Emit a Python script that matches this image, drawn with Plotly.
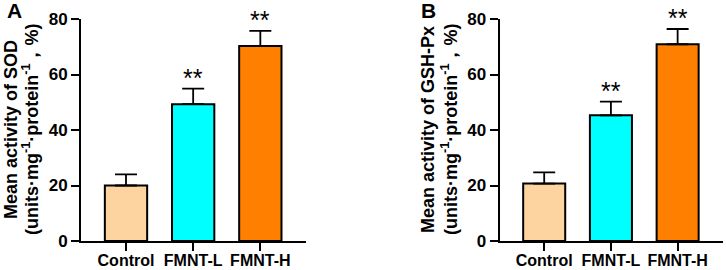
import plotly.graph_objects as go

categories = ["Control", "FMNT-L", "FMNT-H"]
sod_mean = [20.0, 49.3, 70.3]
sod_err = [4.0, 5.6, 5.4]
gsh_mean = [20.7, 45.3, 70.9]
gsh_err = [4.0, 4.9, 5.5]
sig_labels = ["", "**", "**"]
colors = ["#FDD39F", "#00FFFF", "#FF8000"]
y_ticks = [0, 20, 40, 60, 80]

W, H = 726, 270
FONT = "Liberation Sans, Arial, sans-serif"

fig = go.Figure()

panels = [
    dict(mean=sod_mean, err=sod_err, xa="x", ya="y", dom=(81, 306),
         title="Mean activity of SOD", t1=11, t2=30, letter="A", lx=14),
    dict(mean=gsh_mean, err=gsh_err, xa="x2", ya="y2", dom=(499.5, 723),
         title="Mean activity of GSH-Px", t1=428, t2=449, letter="B", lx=428),
]

for i, p in enumerate(panels):
    fig.add_trace(go.Bar(
        x=categories, y=p["mean"], xaxis=p["xa"], yaxis=p["ya"],
        marker=dict(color=colors, line=dict(color="black", width=2)),
        width=0.63,
        error_y=dict(type="data", symmetric=False, array=p["err"],
                     arrayminus=[0, 0, 0], color="black", thickness=1.8, width=11),
        showlegend=False, hoverinfo="skip",
    ))
    sfx = "" if i == 0 else str(i + 1)
    fig.layout["xaxis" + sfx] = dict(
        domain=[p["dom"][0] / W, p["dom"][1] / W], anchor="y" + sfx,
        range=[-0.67, 2.68], showline=True, linecolor="black", linewidth=2,
        ticks="outside", ticklen=8, tickwidth=2, tickcolor="black",
        ticklabelstandoff=-4,
        tickfont=dict(family=FONT, size=16, color="black", weight="bold"),
        showgrid=False, zeroline=False, fixedrange=True, automargin=False,
    )
    fig.layout["yaxis" + sfx] = dict(
        domain=[0, 1], anchor="x" + sfx, range=[0, 80],
        tickvals=y_ticks, showline=True, linecolor="black", linewidth=2,
        ticks="outside", ticklen=8, tickwidth=2, tickcolor="black",
        tickfont=dict(family=FONT, size=17, color="black", weight="bold"),
        showgrid=False, zeroline=False, fixedrange=True, automargin=False,
    )
    for c, m, e, s in zip(categories, p["mean"], p["err"], sig_labels):
        if s:
            fig.add_annotation(x=c, y=m + e, xref=p["xa"], yref=p["ya"], text=s,
                               showarrow=False, yanchor="bottom", yshift=-5,
                               font=dict(family=FONT, size=25, color="black"))
    fig.add_annotation(
        x=p["t1"] / W, y=0.5, xref="paper", yref="paper", textangle=-90,
        text="<b>" + p["title"] + "</b>",
        showarrow=False, xanchor="center", yanchor="middle",
        font=dict(family=FONT, size=18, color="black"),
    )
    fig.add_annotation(
        x=p["t2"] / W, y=0.5, xref="paper", yref="paper", textangle=-90,
        text="<b>(units·mg<sup>-1</sup>·protein<sup>-1</sup>，%)</b>",
        showarrow=False, xanchor="center", yanchor="middle",
        font=dict(family=FONT, size=18, color="black"),
    )
    fig.add_annotation(
        x=p["lx"] / W, y=1 + 8 / 222, xref="paper", yref="paper", text="<b>" + p["letter"] + "</b>",
        showarrow=False, xanchor="center", yanchor="middle",
        font=dict(family=FONT, size=21, color="black"),
    )

fig.update_layout(
    width=W, height=H, margin=dict(l=0, r=0, t=19, b=29, autoexpand=False),
    plot_bgcolor="white", paper_bgcolor="white",
)

fig.write_html("out.html", config={"displayModeBar": False},
               post_script="document.body.style.margin='0';document.body.style.overflow='hidden';")
